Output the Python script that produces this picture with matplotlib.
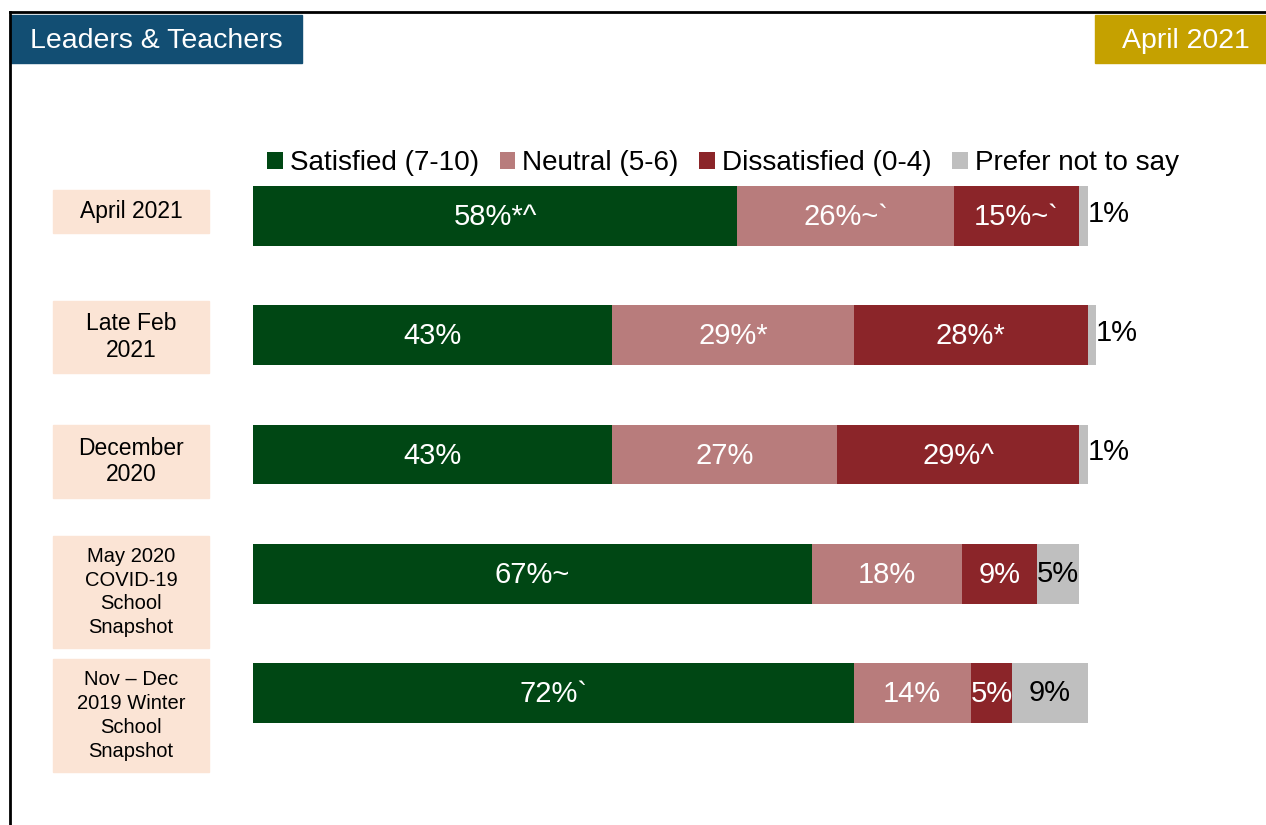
import numpy as np
import matplotlib.pyplot as plt
from matplotlib.patches import Rectangle
from matplotlib.lines import Line2D

plt.rcParams['font.family'] = ['Liberation Sans', 'DejaVu Sans']

# Data
periods = ["April 2021", "Late Feb\n2021", "December\n2020",
           "May 2020\nCOVID-19\nSchool\nSnapshot",
           "Nov \u2013 Dec\n2019 Winter\nSchool\nSnapshot"]
satisfied = [58, 43, 43, 67, 72]
neutral = [26, 29, 27, 18, 14]
dissatisfied = [15, 28, 29, 9, 5]
no_say = [1, 1, 1, 5, 9]
sat_labels = ["58%*^", "43%", "43%", "67%~", "72%`"]
neu_labels = ["26%~`", "29%*", "27%", "18%", "14%"]
dis_labels = ["15%~`", "28%*", "29%^", "9%", "5%"]
ns_labels = ["1%", "1%", "1%", "5%", "9%"]
series_names = ["Satisfied (7-10)", "Neutral (5-6)", "Dissatisfied (0-4)", "Prefer not to say"]
colors = ["#004714", "#b87c7c", "#8b2529", "#bfbfbf"]

W, H = 1266, 825
fig = plt.figure(figsize=(W / 100, H / 100), dpi=100)

# bar axes: 8.345 px per %, starting at x=253 px; rows centred at 216..693 px
px_per_pct = 8.345
xmax = 120
top_px, bot_px = 156.4, 752.6
ax = fig.add_axes([253 / W, 1 - bot_px / H, xmax * px_per_pct / W, (bot_px - top_px) / H])
ax.set_xlim(0, xmax)
ax.set_ylim(4.5, -0.5)
ax.axis('off')

y = np.arange(len(periods))
left = np.zeros(len(periods))
bars = []
for vals, col, name in zip([satisfied, neutral, dissatisfied, no_say], colors, series_names):
    b = ax.barh(y, vals, left=left, height=0.503, color=col, label=name)
    bars.append(b)
    left = left + np.array(vals)

fs_bar = 21
lstart = np.zeros(len(periods))
for vals, labs in zip([satisfied, neutral, dissatisfied], [sat_labels, neu_labels, dis_labels]):
    for i, (v, lab) in enumerate(zip(vals, labs)):
        ax.text(lstart[i] + v / 2, i + 0.01, lab, ha='center', va='center', color='white', fontsize=fs_bar)
    lstart = lstart + np.array(vals)
for i, (v, lab) in enumerate(zip(no_say, ns_labels)):
    if v >= 5:
        ax.text(lstart[i] + v / 2, i, lab, ha='center', va='center', color='black', fontsize=fs_bar)
    else:
        ax.text(lstart[i] + v, i - 0.02, lab, ha='left', va='center', color='black', fontsize=fs_bar)

# legend
fig.legend(handles=bars, labels=series_names, loc='center', bbox_to_anchor=(723 / W, 1 - 163 / H),
           ncol=4, frameon=False, fontsize=20.1, handlelength=0.55, handleheight=0.55,
           handletextpad=0.25, columnspacing=0.75, borderpad=0)

# category boxes (px: top, bottom)
boxes = [(190, 233), (301, 373), (425, 498), (536, 648), (659, 772)]
sizes = [16.5, 16.5, 16.5, 14.5, 14.5]
spacings = [1.22, 1.22, 1.22, 1.33, 1.33]
for lab, (t, b), fs, ls in zip(periods, boxes, sizes, spacings):
    fig.patches.append(Rectangle((53 / W, 1 - b / H), 156 / W, (b - t) / H,
                                 transform=fig.transFigure, color="#fbe4d5", zorder=0))
    fig.text(131 / W, 1 - (t + b) / 2 / H, lab, ha='center', va='center', fontsize=fs,
             linespacing=ls)

# header boxes
fig.patches.append(Rectangle((10 / W, 1 - 63 / H), 292 / W, 48 / H, transform=fig.transFigure,
                             color="#124e73", zorder=1))
fig.text(156 / W, 1 - 41 / H, "Leaders & Teachers", ha='center', va='center', color='white',
         fontsize=20.5, zorder=2)
fig.patches.append(Rectangle((1095 / W, 1 - 63 / H), 171 / W, 48 / H, transform=fig.transFigure,
                             color="#c5a100", zorder=1))
fig.text(1186 / W, 1 - 41 / H, "April 2021", ha='center', va='center', color='white',
         fontsize=20.5, zorder=2)

# frame lines
fig.lines.append(Line2D([10 / W, 1], [1 - 12 / H, 1 - 12 / H], transform=fig.transFigure,
                        color='black', lw=2))
fig.lines.append(Line2D([10 / W, 10 / W], [0, 1 - 12 / H], transform=fig.transFigure,
                        color='black', lw=2))

fig.savefig("out.png", dpi=100)
